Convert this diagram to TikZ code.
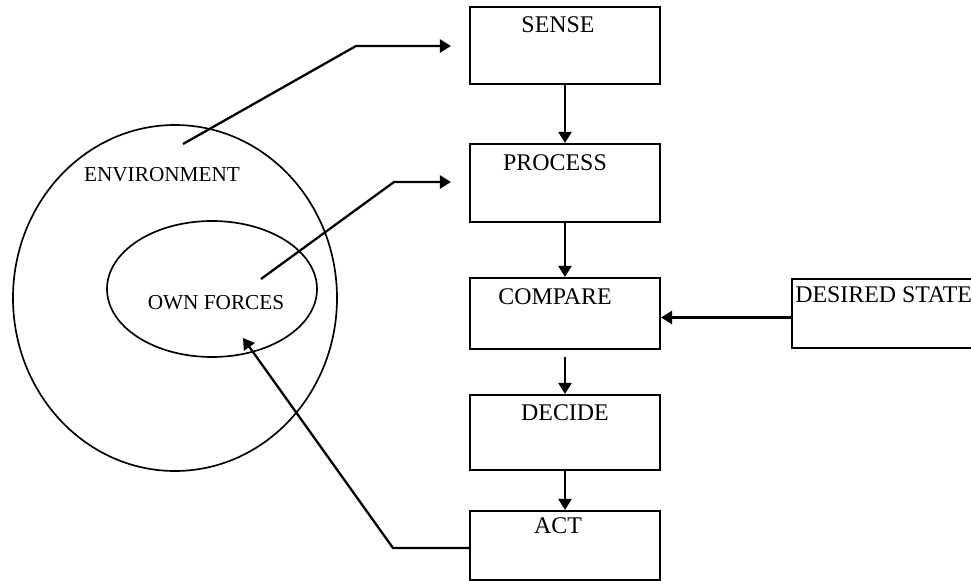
\documentclass[tikz,border=0pt]{standalone}
\usepackage{fontspec}
\setmainfont{Liberation Serif}
\usetikzlibrary{arrows.meta,positioning}
\tikzset{
  box/.style={draw, line width=1.2pt, minimum width=3.8cm, inner sep=0pt},
  boxtext/.style={anchor=north, inner sep=0pt, font=\fontsize{13.6}{15}\selectfont},
  ringtext/.style={inner sep=0pt, font=\fontsize{12.1}{14}\selectfont},
  ring/.style={line width=0.95pt},
  arr/.style={line width=1.3pt, -{Triangle[length=0.22cm,width=0.26cm]}}
}
\begin{document}
\begin{tikzpicture}[x=0.02cm,y=-0.02cm]
\useasboundingbox (0,0) rectangle (971,581);
\clip (0,0) rectangle (971,581);
\draw[ring] (175,298) ellipse [x radius=162, y radius=173];
\draw[ring] (212,289) ellipse [x radius=105, y radius=68];
\node[ringtext] (envlbl) at (162,175) {ENVIRONMENT};
\node[ringtext] (ownlbl) at (216,303) {OWN FORCES};
\node[box, minimum height=1.54cm] (sense) at (565,45.5) {};
\node[box, minimum height=1.56cm] (process) at (565,183) {};
\node[box, minimum height=1.42cm] (compare) at (565,313.5) {};
\node[box, minimum height=1.5cm] (decide) at (565,432.5) {};
\node[box, minimum height=1.38cm] (act) at (565,545.5) {};
\node[box, minimum width=3.96cm, minimum height=1.38cm] (desired) at (891,313.5) {};
\node[boxtext] (senselbl) at ([xshift=-0.14cm,yshift=-0.2cm]sense.north) {SENSE};
\node[boxtext] (processlbl) at ([xshift=-0.2cm,yshift=-0.22cm]process.north) {PROCESS};
\node[boxtext] (comparelbl) at ([xshift=-0.2cm,yshift=-0.22cm]compare.north) {COMPARE};
\node[boxtext] (decidelbl) at ([yshift=-0.2cm]decide.north) {DECIDE};
\node[boxtext] (actlbl) at ([xshift=-0.14cm,yshift=-0.15cm]act.north) {ACT};
\node[boxtext, anchor=north west] (desiredlbl) at ([xshift=0.08cm,yshift=-0.16cm]desired.north west) {DESIRED STATE};
\coordinate (envfoot) at (183,144);
\coordinate (envbend) at (356,46);
\coordinate (ownfoot) at (261,279);
\coordinate (ownbend) at (394,182);
\coordinate (actbend) at (393,548);
\coordinate (owntip) at (243,338);
\draw[arr, shorten >=0.36cm] (envfoot) -- (envbend) -- (envbend -| sense.west);
\draw[arr, shorten >=0.36cm] (ownfoot) -- (ownbend) -- (ownbend -| process.west);
\draw[arr] (sense) -- (process);
\draw[arr] (process) -- (compare);
\draw[arr, shorten <=0.14cm] (compare) -- (decide);
\draw[arr] (decide) -- (act);
\draw[arr] ([yshift=-0.08cm]desired.west) -- ([yshift=-0.08cm]compare.east);
\draw[arr] (act.west |- actbend) -- (actbend) -- (owntip);
\end{tikzpicture}
\end{document}
